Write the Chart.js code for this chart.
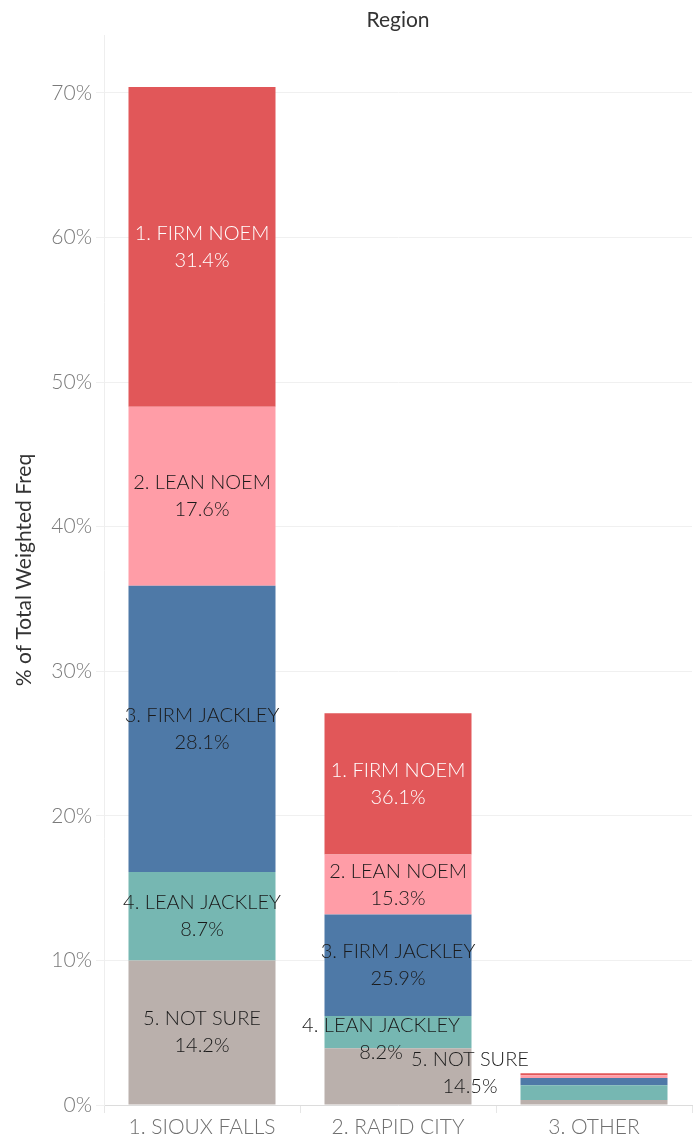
<!DOCTYPE html>
<html>
<head>
<meta charset="utf-8">
<script src="https://cdn.jsdelivr.net/npm/chart.js@4.4.1/dist/chart.umd.min.js"></script>
<style>
  html, body { margin: 0; padding: 0; background: #fff; }
  #wrap { width: 699px; height: 1140px; position: relative; }
</style>
</head>
<body>
<div id="wrap"><canvas id="c" width="699" height="1140"></canvas></div>
<script>
// ---- data ----
const regions = ['1. SIOUX FALLS', '2. RAPID CITY', '3. OTHER'];
const regionTotals = [70.4, 27.1, 2.19];          // % of total weighted freq
const seriesNames = ['5. NOT SURE', '4. LEAN JACKLEY', '3. FIRM JACKLEY', '2. LEAN NOEM', '1. FIRM NOEM'];
// within-region share (%) per series, per region
const notSure     = [14.2, 14.5, 16.0];
const leanJackley = [8.7, 8.2, 46.6];
const firmJackley = [28.1, 25.9, 22.8];
const leanNoem    = [17.6, 15.3, 8.2];
const firmNoem    = [31.4, 36.1, 6.4];
const yTicks = [0, 10, 20, 30, 40, 50, 60, 70];
const showLabels = [true, true, false];

const shares = [notSure, leanJackley, firmJackley, leanNoem, firmNoem];
const colors = ['#BAB0AC', '#76B7B2', '#4E79A7', '#FF9DA7', '#E15759'];
const labelColors = ['#1a1a1a', '#1a1a1a', '#1a1a1a', '#1a1a1a', '#ffffff'];
// label nudges (px) for crowded segments: key "dataIndex:datasetIndex"
const labelNudge = { '1:1': [-17, 7], '1:0': [72, -3] };

const FONT = 'Lato, "Open Sans", sans-serif';

const datasets = seriesNames.map((name, i) => ({
  label: name,
  data: shares[i].map((s, j) => regionTotals[j] * s / 100),
  share: shares[i],
  backgroundColor: colors[i],
  borderWidth: 0,
  barPercentage: 0.75,
  categoryPercentage: 1.0
}));

const segLabels = {
  id: 'segLabels',
  afterDatasetsDraw(chart) {
    const ctx = chart.ctx;
    ctx.save();
    ctx.font = '300 20px ' + FONT;
    ctx.textAlign = 'center';
    ctx.textBaseline = 'middle';
    chart.data.datasets.forEach((ds, di) => {
      const meta = chart.getDatasetMeta(di);
      meta.data.forEach((el, idx) => {
        if (!showLabels[idx]) return;
        const nudge = labelNudge[idx + ':' + di] || [0, 0];
        const x = el.x + nudge[0];
        const yc = (el.y + el.base) / 2 + nudge[1];
        ctx.fillStyle = labelColors[di];
        ctx.fillText(ds.label, x, yc - 13.5);
        ctx.fillText(ds.share[idx].toFixed(1) + '%', x, yc + 13.5);
      });
    });
    ctx.restore();
  }
};

const topTitle = {
  id: 'topTitle',
  afterDraw(chart) {
    const ctx = chart.ctx;
    const a = chart.chartArea;
    ctx.save();
    ctx.font = '21px ' + FONT;
    ctx.fillStyle = '#333';
    ctx.textAlign = 'center';
    ctx.textBaseline = 'middle';
    ctx.fillText('Region', (a.left + a.right) / 2, 20);
    ctx.restore();
  }
};

new Chart(document.getElementById('c'), {
  type: 'bar',
  data: { labels: regions, datasets },
  plugins: [segLabels, topTitle],
  options: {
    responsive: false,
    animation: false,
    layout: { padding: { top: 35, right: 7, left: 0, bottom: 0 } },
    plugins: { legend: { display: false }, tooltip: { enabled: false }, title: { display: false } },
    scales: {
      x: {
        stacked: true,
        afterFit(s) { s.height = 35; },
        grid: { offset: true, drawOnChartArea: false, drawTicks: true, tickLength: 8, color: '#e6e6e6' },
        border: { display: true, color: '#dcdcdc' },
        ticks: { color: '#707070', font: { family: FONT, size: 21, weight: '300' }, padding: 2, maxRotation: 0 }
      },
      y: {
        stacked: true,
        min: 0,
        max: 74,
        afterFit(s) { s.width = 104; },
        afterBuildTicks(s) { s.ticks = yTicks.map(v => ({ value: v })); },
        grid: { color: '#f0f0f0', tickLength: 8, drawTicks: true },
        border: { display: true, color: '#eeeeee' },
        ticks: {
          color: '#7a7a7a',
          font: { family: FONT, size: 21, weight: '300' },
          padding: 4,
          callback: v => v + '%'
        },
        title: {
          display: true,
          text: '% of Total Weighted Freq',
          color: '#333',
          font: { family: FONT, size: 21 },
          padding: { top: 12, bottom: 0 }
        }
      }
    }
  }
});
</script>
</body>
</html>
